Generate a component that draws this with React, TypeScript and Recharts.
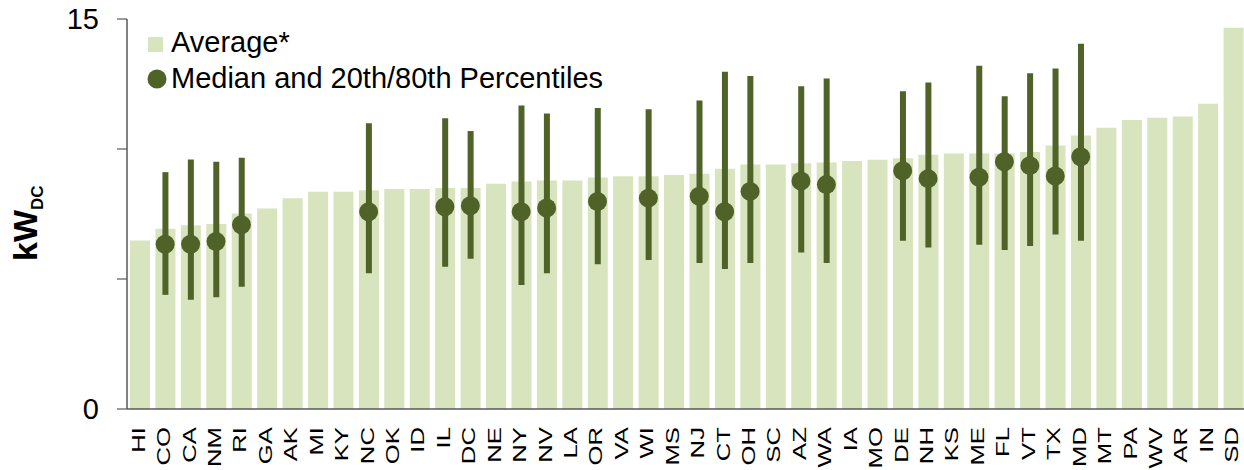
import React from 'react';
import { ComposedChart, Bar, Line, XAxis, YAxis, Legend } from 'recharts';

const states = ['HI','CO','CA','NM','RI','GA','AK','MI','KY','NC','OK','ID','IL','DC','NE','NY','NV','LA','OR','VA','WI','MS','NJ','CT','OH','SC','AZ','WA','IA','MO','DE','NH','KS','ME','FL','VT','TX','MD','MT','PA','WV','AR','IN','SD'];

const average = [6.48,6.93,7.07,7.12,7.52,7.71,8.11,8.36,8.36,8.41,8.46,8.46,8.50,8.50,8.66,8.75,8.79,8.79,8.90,8.95,8.95,9.00,9.05,9.24,9.40,9.40,9.45,9.48,9.54,9.59,9.64,9.78,9.83,9.83,9.83,9.88,10.13,10.52,10.82,11.12,11.20,11.25,11.74,14.66];

const median: (number | null)[] = [null,6.34,6.34,6.44,7.09,null,null,null,null,7.59,null,null,7.78,7.82,null,7.59,7.73,null,7.98,null,8.11,null,8.18,7.59,8.37,null,8.77,8.63,null,null,9.16,8.86,null,8.91,9.51,9.36,8.96,9.70,null,null,null,null,null,null];

const p20: (number | null)[] = [null,4.39,4.20,4.30,4.70,null,null,null,null,5.22,null,null,5.47,5.78,null,4.77,5.22,null,5.57,null,5.73,null,5.62,5.38,5.62,null,6.02,5.62,null,null,6.47,6.21,null,6.32,6.12,6.27,6.71,6.47,null,null,null,null,null,null];

const p80: (number | null)[] = [null,9.11,9.60,9.51,9.66,null,null,null,null,10.99,null,null,11.18,10.69,null,11.67,11.37,null,11.58,null,11.53,null,11.87,12.97,12.81,null,12.41,12.71,null,null,12.22,12.56,null,13.20,12.03,12.91,13.10,14.05,null,null,null,null,null,null];

const yTicks = [0, 5, 10, 15];
const yTickLabels: Record<number, string> = { 0: '0', 15: '15' };

const legendAverage = 'Average*';
const legendMedian = 'Median and 20th/80th Percentiles';

const rows = states.map((s, i) => ({
  state: s,
  avg: average[i],
  median: median[i],
  range: p20[i] != null && p80[i] != null ? [p20[i], p80[i]] : null,
}));

const FONT = 'Liberation Sans, Arial, sans-serif';
const LIGHT = '#d7e4bd';
const DARK = '#4f6228';
const AXIS = '#595959';

const XTick = (props: any) => {
  const { x, y, payload } = props;
  return (
    <g transform={`translate(${x - 1},${y})`}>
      <g transform="rotate(-90)">
        <g transform="scale(1.47,1)">
          <text
            x={0}
            y={0}
            textAnchor="end"
            dominantBaseline="central"
            fontSize={17.5}
            fontFamily={FONT}
            fill="#000"
          >
            {payload.value}
          </text>
        </g>
      </g>
    </g>
  );
};

const YTitle = () => (
  <g transform="translate(37,261)">
    <g transform="rotate(-90)">
      <text x={0} y={0} fontFamily={FONT} fill="#000" fontWeight="bold">
        <tspan fontSize={34}>kW</tspan>
        <tspan fontSize={17} dy={6}>DC</tspan>
      </text>
    </g>
  </g>
);

const LegendContent = () => (
  <svg width={700} height={100} style={{ display: 'block' }}>
    <rect x={148} y={37} width={15} height={15} fill={LIGHT} />
    <text x={171} y={52} fontSize={29} fontFamily={FONT} fill="#000">{legendAverage}</text>
    <circle cx={157} cy={79} r={9.5} fill={DARK} />
    <text x={171} y={88} fontSize={29} fontFamily={FONT} fill="#000">{legendMedian}</text>
  </svg>
);

export default function App() {
  return (
    <div style={{ position: 'fixed', left: 0, top: 0, width: 1244, height: 470, overflow: 'hidden', background: '#fff' }}>
      <ComposedChart
        width={1246}
        height={470}
        data={rows}
        margin={{ top: 19, right: 0, bottom: 0, left: 0 }}
      >
        <XAxis
          dataKey="state"
          height={61}
          interval={0}
          tickLine={false}
          tickSize={0}
          tickMargin={18}
          tick={<XTick />}
          axisLine={{ stroke: AXIS, strokeWidth: 1.5 }}
        />
        <XAxis xAxisId="e" dataKey="state" hide />
        <YAxis
          width={127}
          domain={[0, 15]}
          ticks={yTicks}
          interval={0}
          tickFormatter={(v: number) => yTickLabels[v] ?? ''}
          tickSize={10}
          tickMargin={18}
          tick={{ fontSize: 29, fill: '#000', fontFamily: FONT }}
          tickLine={{ stroke: AXIS, strokeWidth: 1.2 }}
          axisLine={{ stroke: AXIS, strokeWidth: 1.5 }}
          label={{ content: () => <YTitle /> }}
        />
        <Legend
          layout="horizontal"
          verticalAlign="middle"
          align="center"
          wrapperStyle={{ position: 'absolute', left: 0, top: 0, width: 700, height: 100 }}
          content={() => <LegendContent />}
        />
        <Bar dataKey="avg" fill={LIGHT} barSize={20} isAnimationActive={false} />
        <Bar xAxisId="e" dataKey="range" fill={DARK} barSize={6} isAnimationActive={false} />
        <Line
          xAxisId="e"
          dataKey="median"
          stroke="none"
          dot={{ r: 9.5, fill: DARK, stroke: 'none' }}
          activeDot={false}
          isAnimationActive={false}
        />
      </ComposedChart>
    </div>
  );
}
